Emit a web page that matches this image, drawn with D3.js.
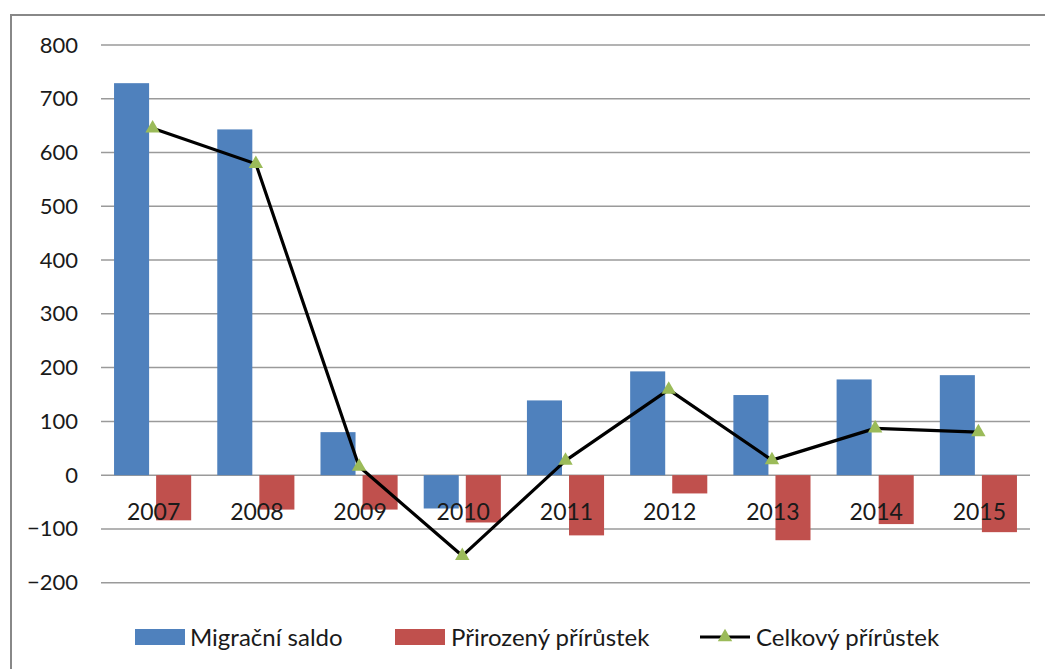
<!DOCTYPE html>
<html>
<head>
<meta charset="utf-8">
<script src="https://cdn.jsdelivr.net/npm/d3@7"></script>
<style>
  body { margin: 0; background: #fff; }
  svg { display: block; font-family: Lato, "Open Sans", sans-serif; }
</style>
</head>
<body>
<svg id="chart"></svg>
<script>
let years = ['2007', '2008', '2009', '2010', '2011', '2012', '2013', '2014', '2015']
let migracni = [729, 643, 80, -62, 139, 193, 149, 178, 186]
let prirozeny = [-84, -64, -64, -88, -112, -34, -121, -91, -106]
let celkovy = [645, 579, 16, -150, 27, 159, 28, 87, 80]
let yTicks = [-200, -100, 0, 100, 200, 300, 400, 500, 600, 700, 800]
let seriesNames = ['Migrační saldo', 'Přirozený přírůstek', 'Celkový přírůstek']

let width = 1045
let height = 669

let svg = d3.select('#chart')
    .attr('width', width)
    .attr('height', height)

// outer frame (runs off the right and bottom edges)
svg.append('rect')
    .attr('x', 11).attr('y', 15)
    .attr('width', 1060).attr('height', 700)
    .attr('fill', 'none')
    .attr('stroke', '#888')
    .attr('stroke-width', 2)

let xScale = d3.scaleBand()
    .domain(years)
    .range([101, 1030])

let innerScale = d3.scaleBand()
    .domain(['m', 'p'])
    .range([0, xScale.bandwidth()])
    .paddingInner(0.167)
    .paddingOuter(0.31)

let yScale = d3.scaleLinear()
    .domain([-200, 800])
    .range([582.7, 45])

// gridlines
svg.append('g')
    .selectAll('line')
    .data(yTicks)
    .enter()
    .append('line')
    .attr('x1', 101).attr('x2', 1030)
    .attr('y1', d => yScale(d)).attr('y2', d => yScale(d))
    .attr('stroke', '#9a9a9a')
    .attr('stroke-width', 1.5)

// y tick labels
let yAxis = d3.axisLeft(yScale).tickValues(yTicks).tickSize(0).tickPadding(0)
svg.append('g')
    .attr('transform', 'translate(78, 0)')
    .call(yAxis)
    .call(g => g.select('.domain').remove())
    .selectAll('text')
    .attr('font-size', 22)
    .attr('font-family', 'Lato, "Open Sans", sans-serif')
    .attr('fill', '#1a1a1a')

// bars
let barData = years.map((y, i) => ({ year: y, m: migracni[i], p: prirozeny[i] }))

svg.append('g')
    .selectAll('rect')
    .data(barData)
    .enter()
    .append('rect')
    .attr('x', d => xScale(d.year) + innerScale('m'))
    .attr('width', innerScale.bandwidth())
    .attr('y', d => yScale(Math.max(0, d.m)))
    .attr('height', d => Math.abs(yScale(d.m) - yScale(0)))
    .attr('fill', '#4f81bd')

svg.append('g')
    .selectAll('rect')
    .data(barData)
    .enter()
    .append('rect')
    .attr('x', d => xScale(d.year) + innerScale('p'))
    .attr('width', innerScale.bandwidth())
    .attr('y', d => yScale(Math.max(0, d.p)))
    .attr('height', d => Math.abs(yScale(d.p) - yScale(0)))
    .attr('fill', '#c0504d')

// category labels (drawn over the bars, like the original)
svg.append('g')
    .selectAll('text')
    .data(years)
    .enter()
    .append('text')
    .attr('x', d => xScale(d) + xScale.bandwidth() / 2 + 1)
    .attr('y', 520)
    .attr('text-anchor', 'middle')
    .attr('font-size', 23)
    .attr('fill', '#1a1a1a')
    .text(d => d)

// total line
let line = d3.line()
    .x((d, i) => xScale(years[i]) + xScale.bandwidth() / 2)
    .y(d => yScale(d))

svg.append('path')
    .datum(celkovy)
    .attr('d', line)
    .attr('fill', 'none')
    .attr('stroke', '#000')
    .attr('stroke-width', 3.2)
    .attr('stroke-linejoin', 'round')

let triangle = d3.symbol().type(d3.symbolTriangle).size(90)

svg.append('g')
    .selectAll('path')
    .data(celkovy)
    .enter()
    .append('path')
    .attr('d', triangle)
    .attr('transform', (d, i) => 'translate(' + (xScale(years[i]) + xScale.bandwidth() / 2) + ',' + yScale(d) + ')')
    .attr('fill', '#9bbb59')

// legend
let legend = svg.append('g').attr('font-size', 24).attr('fill', '#1a1a1a')

legend.append('rect').attr('x', 135).attr('y', 629).attr('width', 50).attr('height', 16).attr('fill', '#4f81bd')
legend.append('text').attr('x', 190).attr('y', 646).text(seriesNames[0])

legend.append('rect').attr('x', 395).attr('y', 629).attr('width', 50).attr('height', 16).attr('fill', '#c0504d')
legend.append('text').attr('x', 451).attr('y', 646).text(seriesNames[1])

legend.append('line').attr('x1', 700).attr('x2', 750).attr('y1', 637).attr('y2', 637)
    .attr('stroke', '#000').attr('stroke-width', 3.2)
legend.append('path').attr('d', triangle).attr('transform', 'translate(725,637)').attr('fill', '#9bbb59')
legend.append('text').attr('x', 756).attr('y', 646).text(seriesNames[2])
</script>
</body>
</html>
